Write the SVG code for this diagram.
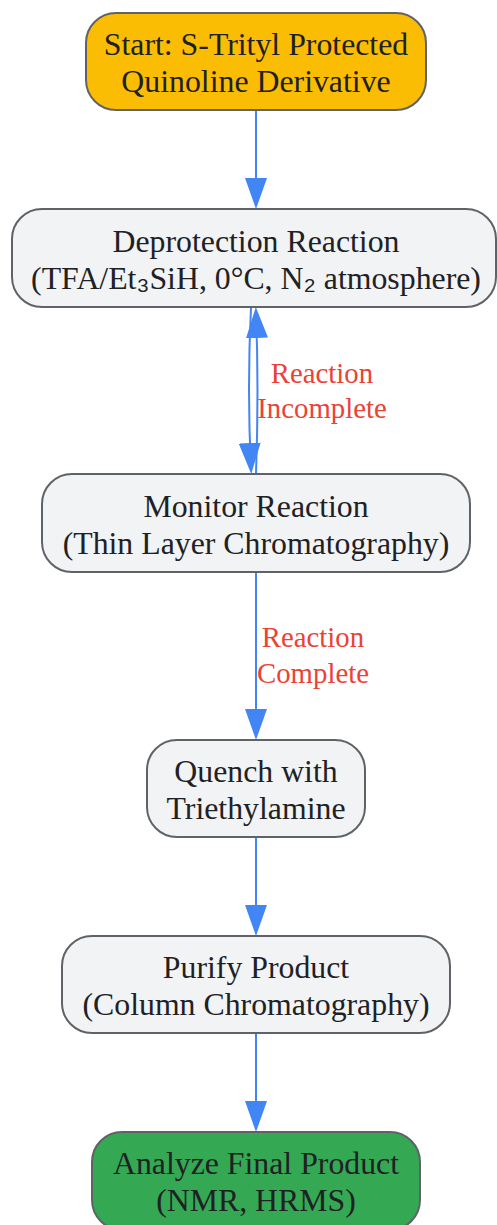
<svg xmlns="http://www.w3.org/2000/svg" width="497" height="1225" viewBox="0 0 497 1225">
<style>
.n rect{stroke:#5f6368;stroke-width:2}
.g{fill:#f1f3f4}
.t{font-family:"Liberation Serif","Times New Roman",serif;font-size:31.8px;fill:#202124;text-anchor:middle}
.s{font-family:"Noto Sans CJK JP",sans-serif}
.l{font-family:"Liberation Serif","Times New Roman",serif;font-size:28.8px;fill:#ea4335;text-anchor:middle}
.e{fill:none;stroke:#4285f4;stroke-width:2}
</style>
<defs>
<marker id="ah" markerUnits="userSpaceOnUse" markerWidth="31" markerHeight="22" refX="26" refY="11" orient="auto">
<path d="M0,0 L31,11 L0,22 z" fill="#4285f4"/>
</marker>
</defs>
<rect width="497" height="1225" fill="#fff"/>
<g id="edges">
<path class="e" d="M256,110 L256,204" marker-end="url(#ah)"/>
<path class="e" d="M251,307 Q247,390 251,469" marker-end="url(#ah)"/>
<path class="e" d="M256,474 Q259,390 256,312" marker-end="url(#ah)"/>
<path class="e" d="M256,572 L256,735" marker-end="url(#ah)"/>
<path class="e" d="M256,837 L256,931" marker-end="url(#ah)"/>
<path class="e" d="M256,1033 L256,1127" marker-end="url(#ah)"/>
<text class="l" x="322" y="383">Reaction</text>
<text class="l" x="322" y="418">Incomplete</text>
<text class="l" x="313" y="647">Reaction</text>
<text class="l" x="313" y="683">Complete</text>
</g>
<g id="start" class="n">
<rect x="86" y="13" width="340" height="97" rx="30" fill="#fbbc04"/>
<text class="t" x="256" y="55">Start: S-Trityl Protected</text>
<text class="t" x="256" y="92">Quinoline Derivative</text>
</g>
<g id="deprotection" class="n">
<rect class="g" x="12" y="209" width="484" height="98" rx="30"/>
<text class="t" x="256" y="252">Deprotection Reaction</text>
<text class="t" x="256" y="289">(TFA/Et<tspan class="s">₃</tspan>SiH, 0°C, N<tspan class="s">₂</tspan> atmosphere)</text>
</g>
<g id="monitor" class="n">
<rect class="g" x="42" y="474" width="428" height="98" rx="30"/>
<text class="t" x="256" y="517">Monitor Reaction</text>
<text class="t" x="256" y="554">(Thin Layer Chromatography)</text>
</g>
<g id="quench" class="n">
<rect class="g" x="147" y="740" width="218" height="97" rx="30"/>
<text class="t" x="256" y="782">Quench with</text>
<text class="t" x="256" y="819">Triethylamine</text>
</g>
<g id="purify" class="n">
<rect class="g" x="62" y="936" width="388" height="97" rx="30"/>
<text class="t" x="256" y="978">Purify Product</text>
<text class="t" x="256" y="1015">(Column Chromatography)</text>
</g>
<g id="analyze" class="n">
<rect x="92" y="1132" width="328" height="98" rx="30" fill="#34a853"/>
<text class="t" x="256" y="1174">Analyze Final Product</text>
<text class="t" x="256" y="1211">(NMR, HRMS)</text>
</g>
</svg>
